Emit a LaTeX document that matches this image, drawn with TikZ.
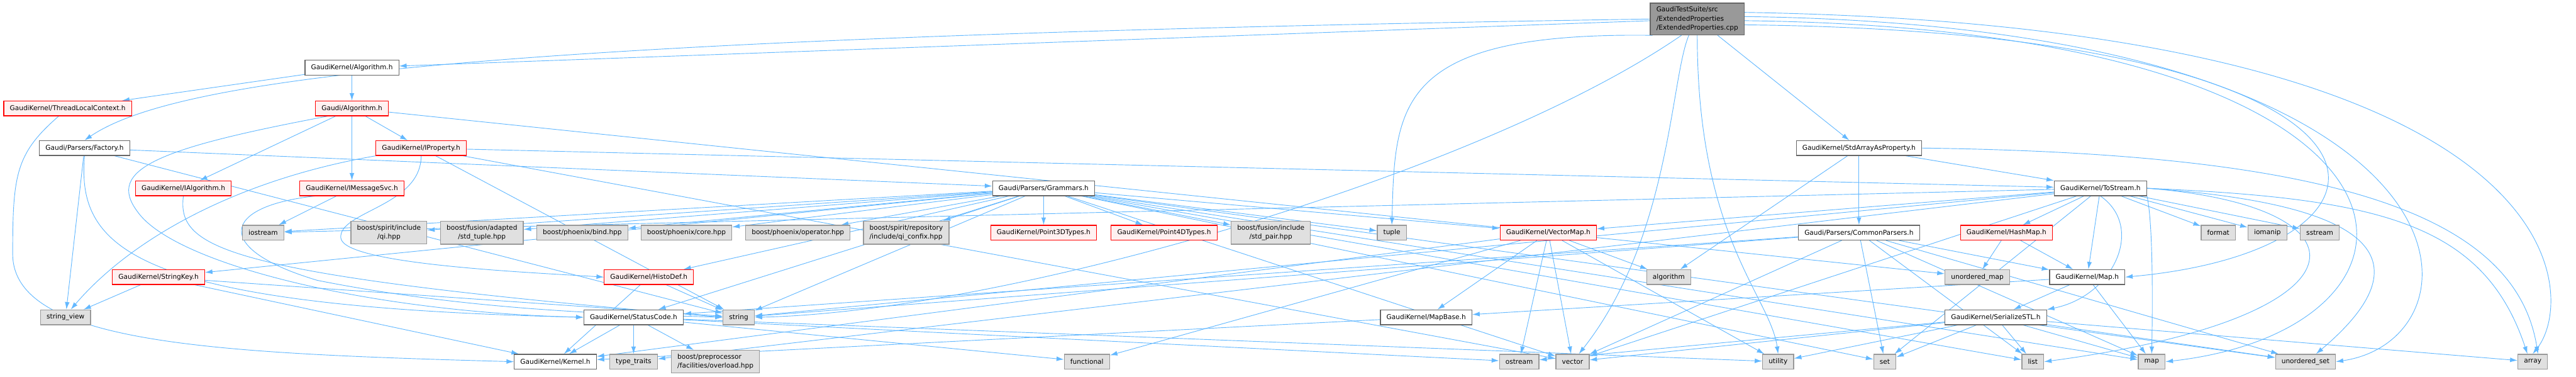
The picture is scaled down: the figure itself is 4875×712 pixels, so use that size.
\documentclass[tikz,border=0pt]{standalone}
\usepackage{fontspec}
\setmainfont{DejaVu Sans}
\usetikzlibrary{arrows.meta,positioning,backgrounds}
\definecolor{depblue}{RGB}{99,184,255}
\definecolor{boxgray}{RGB}{102,102,102}
\definecolor{sysgray}{RGB}{153,153,153}
\definecolor{sysfill}{RGB}{224,224,224}
\definecolor{trunfill}{RGB}{255,240,240}
\newcommand{\dfont}{\fontsize{12.6}{17}\selectfont}

\begin{document}
\begin{tikzpicture}[
x=1pt,
y=-1pt,
hdr/.style={
draw,
rectangle,
line width=1.5pt,
inner xsep=11.5pt,
inner ysep=7pt,
minimum height=28pt,
font=\dfont,
align=center
},
wbox/.style={hdr, draw=boxgray, fill=white},
gbox/.style={hdr, draw=sysgray, fill=sysfill},
rbox/.style={hdr, draw=red, fill=trunfill},
rootbox/.style={hdr, draw=boxgray, fill=sysgray, align=left},
dep/.style={
-{Latex[length=14pt,width=9pt]},
line width=1.1pt,
color=depblue
}
]
\useasboundingbox (0,0) rectangle (4875,712);

% source file
\node[rootbox] (root) at (3212,36) {GaudiTestSuite/src\\/ExtendedProperties\\/ExtendedProperties.cpp};

% headers
\node[wbox] (alg) at (666,128) {GaudiKernel/Algorithm.h};
\node[rbox] (tlc) at (128,205) {GaudiKernel/ThreadLocalContext.h};
\node[rbox] (galg) at (666,205) {Gaudi/Algorithm.h};
\node[wbox] (factory) at (160,280) {Gaudi/Parsers/Factory.h};
\node[rbox] (iprop) at (797,280) {GaudiKernel/IProperty.h};
\node[wbox] (stdarray) at (3518,280) {GaudiKernel/StdArrayAsProperty.h};
\node[rbox] (ialg) at (347,356) {GaudiKernel/IAlgorithm.h};
\node[rbox] (imsg) at (666,356) {GaudiKernel/IMessageSvc.h};
\node[wbox] (grammars) at (1975,356) {Gaudi/Parsers/Grammars.h};
\node[wbox] (tostream) at (3975,356) {GaudiKernel/ToStream.h};

\node[gbox] (iostream) at (498,440) {iostream};
\node[gbox] (qi) at (736,440) {boost/spirit/include\\/qi.hpp};
\node[gbox] (stdtuple) at (912,440) {boost/fusion/adapted\\/std\_tuple.hpp};
\node[gbox] (bind) at (1102,440) {boost/phoenix/bind.hpp};
\node[gbox] (core) at (1299,440) {boost/phoenix/core.hpp};
\node[gbox] (operator) at (1510,440) {boost/phoenix/operator.hpp};
\node[gbox,align=left] (confix) at (1715,440) {boost/spirit/repository\\/include/qi\_confix.hpp};
\node[rbox] (p3d) at (1975,440) {GaudiKernel/Point3DTypes.h};
\node[rbox] (p4d) at (2203,440) {GaudiKernel/Point4DTypes.h};
\node[gbox] (stdpair) at (2405,440) {boost/fusion/include\\/std\_pair.hpp};
\node[gbox] (tuple) at (2634,440) {tuple};
\node[rbox] (vmap) at (2930,440) {GaudiKernel/VectorMap.h};
\node[wbox] (common) at (3518,440) {Gaudi/Parsers/CommonParsers.h};
\node[rbox] (hashmap) at (3797,440) {GaudiKernel/HashMap.h};
\node[gbox] (format) at (4198,440) {format};
\node[gbox] (iomanip) at (4291,440) {iomanip};
\node[gbox] (sstream) at (4390,440) {sstream};

\node[rbox] (skey) at (300,524) {GaudiKernel/StringKey.h};
\node[rbox] (histo) at (1228,524) {GaudiKernel/HistoDef.h};
\node[gbox] (algorithm) at (3158,524) {algorithm};
\node[gbox] (umap) at (3742,524) {unordered\_map};
\node[wbox] (maph) at (3950,524) {GaudiKernel/Map.h};

\node[gbox] (sview) at (124,600) {string\_view};
\node[wbox] (status) at (1199,600) {GaudiKernel/StatusCode.h};
\node[gbox] (string) at (1398,600) {string};
\node[wbox] (mapbase) at (2699,600) {GaudiKernel/MapBase.h};
\node[wbox] (sstl) at (3777,600) {GaudiKernel/SerializeSTL.h};

\node[wbox] (kernel) at (1051,684) {GaudiKernel/Kernel.h};
\node[gbox] (ttraits) at (1199,684) {type\_traits};
\node[gbox,align=left] (overload) at (1354,684) {boost/preprocessor\\/facilities/overload.hpp};
\node[gbox] (functional) at (2057,684) {functional};
\node[gbox] (ostream) at (2875,684) {ostream};
\node[gbox] (vector) at (2976,684) {vector};
\node[gbox] (utility) at (3365,684) {utility};
\node[gbox] (set) at (3567,684) {set};
\node[gbox] (list) at (3847,684) {list};
\node[gbox] (map) at (4072,684) {map};
\node[gbox] (uset) at (4363,684) {unordered\_set};
\node[gbox] (array) at (4793,684) {array};

\begin{scope}[on background layer]
% from the source file
\draw[dep] (root) -- (alg);
\draw[dep] (root.west) .. controls (900,70) and (330,150) .. (factory.north);
\draw[dep] (root) -- (stdarray);
\draw[dep] (root.200) .. controls (2640,60) and (2640,200) .. (tuple.north);
\draw[dep] ([xshift=-30pt]root.south) .. controls (2800,330) and (1900,590) .. (string.east);
\draw[dep] ([xshift=-16pt]root.south) .. controls (3161,150) and (3161,450) .. ([xshift=12pt]vector.north);
\draw[dep] (root.south) .. controls (3212,450) and (3350,560) .. (utility.north);
\draw[dep] (root.8) .. controls (4880,50) and (4880,560) .. (array.north);
\draw[dep] (root.3) .. controls (4720,50) and (4720,640) .. (uset.east);
\draw[dep] (root.-2) .. controls (4667,55) and (4667,620) .. (map.east);
\draw[dep] (root.-7) .. controls (4616,60) and (4616,470) .. (maph.east);

% algorithm side
\draw[dep] (alg) -- (galg);
\draw[dep] (alg) -- (tlc);
\draw[dep] ([xshift=-17pt]tlc.south) .. controls (30,290) and (24,330) .. (24,480)
.. controls (24,650) and (400,668) .. (kernel.west);
\draw[dep] (galg) -- (ialg);
\draw[dep] (galg) -- (imsg);
\draw[dep] (galg) -- (iprop);
\draw[dep] (galg) -- (umap);
\draw[dep] ([xshift=-46pt]galg.south) .. controls (300,280) and (200,320) .. (260,400)
.. controls (330,500) and (700,590) .. (status.west);
\draw[dep] (iprop) -- (tostream);
\draw[dep] (iprop) -- (string);
\draw[dep] (iprop) -- (vector);
\draw[dep] (iprop.south west) .. controls (450,340) and (250,450) .. ([xshift=10pt]sview.north);
\draw[dep] (iprop.south) .. controls (797,390) and (640,400) .. (645,450)
.. controls (650,500) and (1000,515) .. (histo.west);
\draw[dep] (imsg) -- (iostream);
\draw[dep] ([xshift=-70pt]imsg.south) .. controls (420,390) and (400,470) .. (600,530)
.. controls (900,590) and (1200,595) .. (string.west);
\draw[dep] (ialg.south) .. controls (335,470) and (420,520) .. (string.west);

% parsers
\draw[dep] (factory) -- (grammars);
\draw[dep] (factory) -- (sview);
\draw[dep] (factory) -- (string);
\draw[dep] (factory.south) .. controls (145,470) and (250,580) .. (status.west);
\draw[dep] (grammars) -- (qi);
\draw[dep] (grammars) -- (stdtuple);
\draw[dep] (grammars) -- (bind);
\draw[dep] (grammars) -- (core);
\draw[dep] (grammars) -- (operator);
\draw[dep] (grammars) -- (confix);
\draw[dep] (grammars) -- (p3d);
\draw[dep] (grammars) -- (p4d);
\draw[dep] (grammars) -- (stdpair);
\draw[dep] (grammars) -- (tuple);
\draw[dep] (grammars) -- (vmap);
\draw[dep] (grammars) -- (histo);
\draw[dep] (grammars) -- (skey);
\draw[dep] (grammars) -- (status);
\draw[dep] (grammars) -- (string);
\draw[dep] (grammars) -- (vector);
\draw[dep] (grammars) -- (list);
\draw[dep] (grammars) -- (map);
\draw[dep] (grammars) -- (set);
\draw[dep] (grammars) -- (uset);
\draw[dep] (grammars) -- (iostream);
\draw[dep] (stdarray) -- (common);
\draw[dep] (stdarray) -- (tostream);
\draw[dep] (stdarray) -- (algorithm);
\draw[dep] (stdarray.east) .. controls (4400,290) and (4760,400) .. ([xshift=10pt]array.north);
\draw[dep] (common) -- (maph);
\draw[dep] (common) -- (status);
\draw[dep] (common) -- (string);
\draw[dep] (common) -- (vector);
\draw[dep] (common) -- (set);
\draw[dep] (common) -- (list);
\draw[dep] (common) -- (map);
\draw[dep] (common) -- (uset);

% streaming
\draw[dep] (tostream) -- (hashmap);
\draw[dep] (tostream) -- (maph);
\draw[dep] (tostream) -- (vmap);
\draw[dep] (tostream) -- (format);
\draw[dep] (tostream) -- (iomanip);
\draw[dep] (tostream) -- (sstream);
\draw[dep] (tostream) -- (iostream);
\draw[dep] (tostream) -- (string);
\draw[dep] (tostream) -- (set);
\draw[dep] (tostream) -- (ttraits);
\draw[dep] (tostream) -- (vector);
\draw[dep] (tostream.south) .. controls (4060,430) and (4000,560) .. (sstl.north east);
\draw[dep] (tostream.south east) .. controls (4074,420) and (4074,560) .. (map.north);
\draw[dep] (tostream.east) .. controls (4500,390) and (4500,600) .. (list.east);
\draw[dep] (tostream.east) .. controls (4560,390) and (4560,520) .. ([xshift=20pt]uset.north);
\draw[dep] (tostream.east) .. controls (4500,375) and (4700,420) .. ([xshift=-10pt]array.north);
\draw[dep] (hashmap) -- (umap);
\draw[dep] (hashmap) -- (maph);
\draw[dep] (maph) -- (map);
\draw[dep] (maph) -- (mapbase);
\draw[dep] (maph) -- (sstl);
\draw[dep] (sstl) -- (list);
\draw[dep] (sstl) -- (map);
\draw[dep] (sstl) -- (vector);
\draw[dep] (sstl) -- (ostream);
\draw[dep] (sstl) -- (array);
\draw[dep] (sstl) -- (uset);
\draw[dep] (sstl) -- (utility);
\draw[dep] (sstl) -- (set);

% containers and kernel
\draw[dep] (vmap) -- (mapbase);
\draw[dep] (vmap) -- (kernel);
\draw[dep] (vmap) -- (functional);
\draw[dep] (vmap) -- (ostream);
\draw[dep] (vmap) -- (vector);
\draw[dep] (vmap) -- (utility);
\draw[dep] (vmap) -- (algorithm);
\draw[dep] (mapbase) -- (kernel);
\draw[dep] (skey) -- (sview);
\draw[dep] (skey) -- (string);
\draw[dep] (skey) -- (kernel);
\draw[dep] (histo) -- (string);
\draw[dep] (histo) -- (kernel);
\draw[dep] (status) -- (kernel);
\draw[dep] (status) -- (ttraits);
\draw[dep] (status) -- (overload);
\draw[dep] (status) -- (functional);
\draw[dep] (status) -- (ostream);
\draw[dep] (status) -- (utility);
\end{scope}

\end{tikzpicture}
\end{document}
